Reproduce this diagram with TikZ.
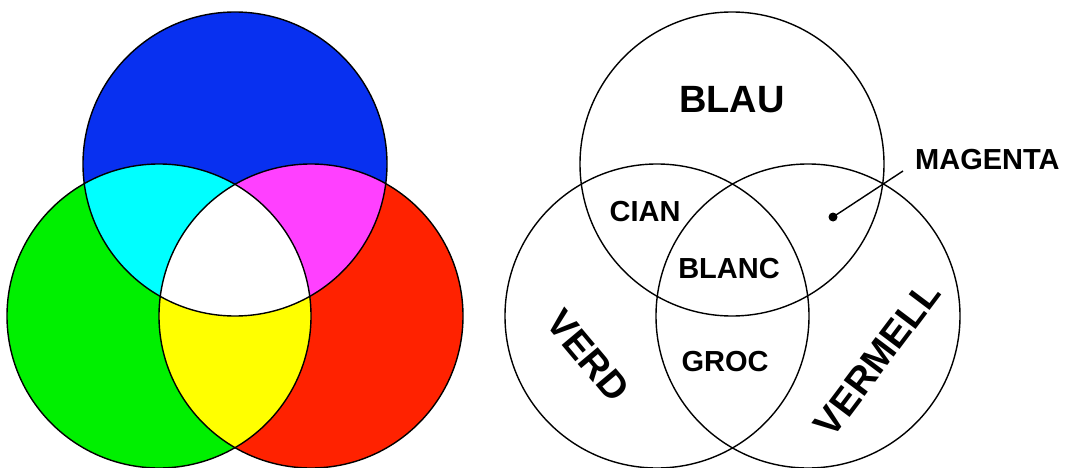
\documentclass[tikz,border=0pt]{standalone}
\usepackage{fontspec}
\setmainfont{Liberation Sans}
\definecolor{cblue}{RGB}{8,48,240}
\definecolor{cgreen}{RGB}{0,240,0}
\definecolor{cred}{RGB}{255,34,0}
\definecolor{ccyan}{RGB}{0,255,255}
\definecolor{cmag}{RGB}{255,64,255}
\definecolor{cyel}{RGB}{255,255,0}
\begin{document}
\begin{tikzpicture}[x=1pt,y=-1pt,
  ring/.style={draw=black,line width=1.4pt},
  lab/.style={font=\fontsize{29}{29}\selectfont\bfseries,inner sep=0pt},
  biglab/.style={font=\fontsize{38}{38}\selectfont\bfseries,inner sep=0pt}]
\useasboundingbox (0,0) rectangle (1068,468);
% centres
\coordinate (LB) at (235,164);
\coordinate (LG) at (159,316);
\coordinate (LR) at (311,316);
\coordinate (RB) at (732,164);
\coordinate (RG) at (657,316);
\coordinate (RR) at (808,316);
\def\rr{152}
% left coloured diagram
\fill[cblue] (LB) circle (\rr);
\fill[cgreen] (LG) circle (\rr);
\fill[cred] (LR) circle (\rr);
\begin{scope}\clip (LB) circle (\rr); \fill[ccyan] (LG) circle (\rr); \end{scope}
\begin{scope}\clip (LB) circle (\rr); \fill[cmag] (LR) circle (\rr); \end{scope}
\begin{scope}\clip (LG) circle (\rr); \fill[cyel] (LR) circle (\rr); \end{scope}
\begin{scope}\clip (LB) circle (\rr); \clip (LG) circle (\rr); \fill[white] (LR) circle (\rr); \end{scope}
\draw[ring] (LB) circle (\rr);
\draw[ring] (LG) circle (\rr);
\draw[ring] (LR) circle (\rr);
% right labelled diagram
\draw[ring] (RB) circle (\rr);
\draw[ring] (RG) circle (\rr);
\draw[ring] (RR) circle (\rr);
\node[biglab] (blau) at (732,100) {BLAU};
\node[lab] (cian) at (645,212) {CIAN};
\node[lab] (blanc) at (729,269) {BLANC};
\node[lab] (groc) at (725,362) {GROC};
\node[biglab,rotate=-50] (verd) at (588,356) {VERD};
\node[biglab,rotate=53] (vermell) at (877,359) {VERMELL};
\node[lab,anchor=west] (magenta) at (915,160) {MAGENTA};
\coordinate (dot) at (833,217);
\coordinate (tick) at (903,171);
\fill (dot) circle (4.5);
\draw[line width=1.4pt] (dot) -- (tick);
\end{tikzpicture}
\end{document}
